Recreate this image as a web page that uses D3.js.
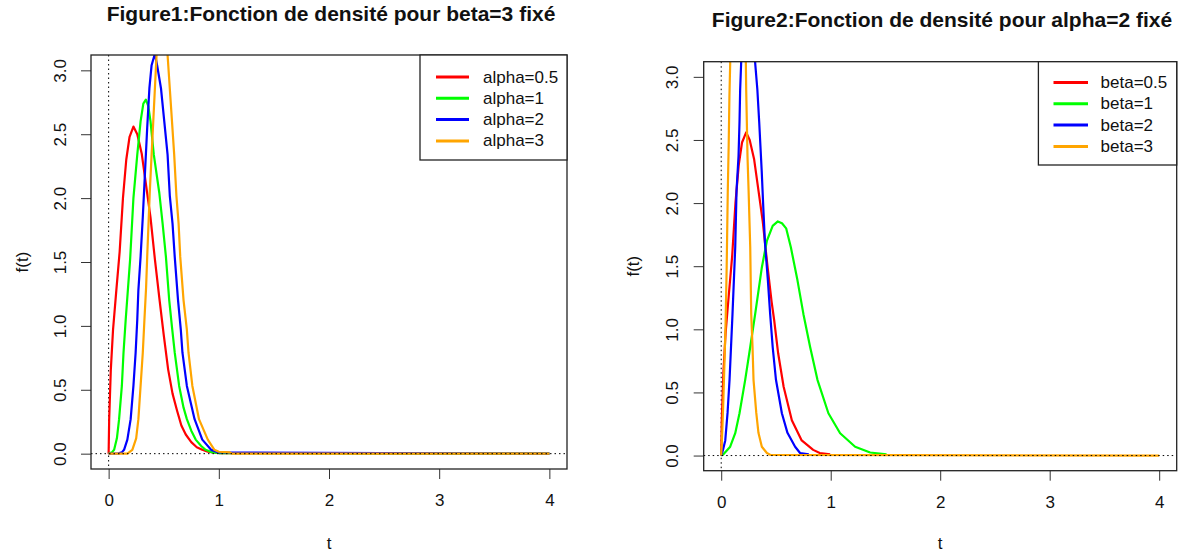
<!doctype html>
<html>
<head>
<meta charset="utf-8">
<script src="https://d3js.org/d3.v7.min.js"></script>
<style>
  body { margin: 0; background: #fff; }
  text { font-family: "Liberation Sans", Arial, sans-serif; fill: #111; }
</style>
</head>
<body>
<svg id="chart" width="1188" height="554"></svg>
<script>
// ---- Figure 1 : beta = 3 fixed, alpha varies ----
var fig1Labels = ["alpha=0.5", "alpha=1", "alpha=2", "alpha=3"];

var f1RedT = [0, 0.005, 0.02, 0.04, 0.07, 0.1, 0.13, 0.16, 0.19, 0.225, 0.26, 0.3, 0.34, 0.38, 0.42, 0.46, 0.5, 0.54, 0.58, 0.62, 0.66, 0.7, 0.75, 0.8, 0.85, 0.9, 0.95, 1.0, 4.0];
var f1RedF = [0, 0.27, 0.66, 0.97, 1.28, 1.58, 2.0, 2.3, 2.48, 2.56, 2.5, 2.35, 2.1, 1.85, 1.52, 1.22, 0.93, 0.66, 0.47, 0.34, 0.22, 0.15, 0.09, 0.05, 0.03, 0.015, 0.01, 0.005, 0];

var f1GreenT = [0, 0.03, 0.05, 0.075, 0.095, 0.12, 0.135, 0.155, 0.195, 0.225, 0.26, 0.29, 0.315, 0.338, 0.36, 0.38, 0.41, 0.46, 0.49, 0.52, 0.55, 0.575, 0.6, 0.64, 0.68, 0.71, 0.75, 0.79, 0.84, 0.88, 0.94, 1.0, 4.0];
var f1GreenF = [0, 0.01, 0.03, 0.12, 0.27, 0.53, 0.79, 1.05, 1.52, 2.0, 2.34, 2.6, 2.74, 2.77, 2.72, 2.6, 2.34, 2.04, 1.8, 1.54, 1.2, 0.99, 0.79, 0.53, 0.36, 0.27, 0.18, 0.11, 0.06, 0.03, 0.01, 0.005, 0];

var f1BlueT = [0, 0.09, 0.12, 0.14, 0.17, 0.2, 0.225, 0.245, 0.26, 0.27, 0.29, 0.31, 0.33, 0.35, 0.37, 0.39, 0.42, 0.44, 0.475, 0.505, 0.535, 0.555, 0.58, 0.6, 0.63, 0.655, 0.67, 0.71, 0.78, 0.85, 0.93, 1.0, 4.0];
var f1BlueF = [0, 0.002, 0.01, 0.03, 0.11, 0.27, 0.53, 0.79, 1.05, 1.28, 1.54, 1.85, 2.2, 2.55, 2.86, 3.04, 3.13, 3.04, 2.86, 2.6, 2.34, 2.02, 1.8, 1.54, 1.2, 0.97, 0.79, 0.53, 0.27, 0.11, 0.03, 0.01, 0];

var f1OrangeT = [0, 0.17, 0.215, 0.25, 0.27, 0.29, 0.31, 0.325, 0.34, 0.35, 0.362, 0.373, 0.39, 0.405, 0.42, 0.435, 0.485, 0.535, 0.555, 0.575, 0.595, 0.615, 0.635, 0.65, 0.68, 0.71, 0.725, 0.76, 0.82, 0.9, 0.96, 1.0, 1.1, 1.12, 4.0];
var f1OrangeF = [0, 0, 0.03, 0.12, 0.27, 0.53, 0.79, 1.05, 1.3, 1.54, 1.8, 2.04, 2.34, 2.6, 2.86, 3.12, 3.5, 3.12, 2.86, 2.6, 2.34, 2.02, 1.8, 1.54, 1.2, 0.97, 0.79, 0.53, 0.27, 0.11, 0.03, 0.015, 0.01, 0, 0];

// ---- Figure 2 : alpha = 2 fixed, beta varies ----
var fig2Labels = ["beta=0.5", "beta=1", "beta=2", "beta=3"];

var f2RedT = [0, 0.005, 0.02, 0.04, 0.07, 0.1, 0.13, 0.16, 0.19, 0.228, 0.26, 0.3, 0.34, 0.38, 0.42, 0.46, 0.484, 0.52, 0.57, 0.645, 0.735, 0.84, 0.9, 0.995];
var f2RedF = [0, 0.27, 0.66, 0.97, 1.28, 1.58, 2.0, 2.3, 2.48, 2.56, 2.5, 2.35, 2.1, 1.85, 1.52, 1.22, 1.07, 0.81, 0.545, 0.28, 0.12, 0.045, 0.02, 0.01];

var f2GreenT = [0, 0.02, 0.082, 0.128, 0.167, 0.219, 0.265, 0.31, 0.371, 0.417, 0.47, 0.517, 0.555, 0.593, 0.636, 0.696, 0.751, 0.812, 0.879, 0.979, 1.086, 1.223, 1.36, 1.51];
var f2GreenF = [0, 0.01, 0.07, 0.177, 0.335, 0.6, 0.86, 1.12, 1.49, 1.7, 1.82, 1.855, 1.84, 1.8, 1.65, 1.39, 1.12, 0.86, 0.6, 0.335, 0.177, 0.07, 0.024, 0.01];

var f2BlueT = [0, 0.016, 0.037, 0.058, 0.076, 0.103, 0.128, 0.14, 0.158, 0.167, 0.173, 0.182, 0.2, 0.24, 0.28, 0.31, 0.33, 0.347, 0.37, 0.385, 0.4, 0.426, 0.447, 0.47, 0.5, 0.554, 0.605, 0.675, 0.72, 0.8];
var f2BlueF = [0, 0.045, 0.12, 0.34, 0.6, 1.12, 1.65, 2.1, 2.37, 2.64, 2.9, 3.11, 3.5, 3.8, 3.55, 3.11, 2.9, 2.64, 2.25, 1.95, 1.68, 1.39, 1.12, 0.86, 0.6, 0.335, 0.18, 0.07, 0.02, 0.01];

var f2OrangeT = [0, 0.01, 0.02, 0.03, 0.04, 0.05, 0.06, 0.068, 0.075, 0.082, 0.11, 0.15, 0.19, 0.225, 0.228, 0.234, 0.24, 0.25, 0.265, 0.274, 0.286, 0.295, 0.32, 0.34, 0.371, 0.417, 0.45, 4.0];
var f2OrangeF = [0, 0.2, 0.45, 0.75, 1.05, 1.5, 2.1, 2.45, 2.85, 3.11, 4.4, 5.3, 4.6, 3.11, 2.9, 2.64, 2.37, 2.1, 1.65, 1.12, 0.86, 0.6, 0.34, 0.18, 0.07, 0.02, 0.005, 0];

var xTicks = [0, 1, 2, 3, 4];
var yTicks = [0, 0.5, 1, 1.5, 2, 2.5, 3];
var colors = ["#FF0000", "#00FF00", "#0000FF", "#FFA500"];

function zip(ts, fs) { return ts.map(function(t, i) { return [t, fs[i]]; }); }

var svg = d3.select("#chart");

function drawPanel(cfg) {
  var x = d3.scaleLinear().domain([-0.16, 4.16]).range([cfg.left, cfg.right]);
  var y = d3.scaleLinear().domain([-0.12, 3.12]).range([cfg.bottom, cfg.top]);
  var g = svg.append("g");

  g.append("clipPath").attr("id", cfg.id)
    .append("rect")
      .attr("x", cfg.left).attr("y", cfg.top)
      .attr("width", cfg.right - cfg.left).attr("height", cfg.bottom - cfg.top);

  // title
  g.append("text")
    .attr("x", cfg.titleX).attr("y", cfg.titleY)
    .attr("text-anchor", "middle")
    .style("font-size", "21px").style("font-weight", "bold")
    .text(cfg.title);

  // x axis
  var xa = g.append("g")
    .attr("transform", "translate(0," + cfg.bottom + ")")
    .call(d3.axisBottom(x).tickValues(xTicks).tickSize(10).tickPadding(15).tickFormat(d3.format("d")));
  xa.select(".domain").remove();
  xa.selectAll("text").style("font-size", "17px").attr("fill", "#111")
    .style("font-family", '"Liberation Sans", Arial, sans-serif');
  xa.selectAll("line").attr("stroke", "#333");

  // y axis
  var ya = g.append("g")
    .attr("transform", "translate(" + cfg.left + ",0)")
    .call(d3.axisLeft(y).tickValues(yTicks).tickSize(10).tickFormat(d3.format(".1f")));
  ya.select(".domain").remove();
  ya.selectAll("line").attr("stroke", "#333");
  ya.selectAll("text")
    .attr("x", null).attr("dy", null)
    .attr("text-anchor", "middle")
    .attr("dominant-baseline", "central")
    .attr("transform", "translate(-31,0) rotate(-90)")
    .style("font-size", "17px").attr("fill", "#444")
    .style("font-family", '"Liberation Sans", Arial, sans-serif');

  // axis titles
  g.append("text")
    .attr("x", (cfg.left + cfg.right) / 2).attr("y", 549)
    .attr("text-anchor", "middle").style("font-size", "17px")
    .text("t");
  g.append("text")
    .attr("transform", "translate(" + cfg.ylabX + "," + ((cfg.top + cfg.bottom) / 2) + ") rotate(-90)")
    .attr("text-anchor", "middle").attr("dominant-baseline", "central")
    .style("font-size", "17px")
    .text("f(t)");

  // dotted reference line at t=0
  g.append("line")
    .attr("x1", x(0)).attr("x2", x(0)).attr("y1", cfg.top).attr("y2", cfg.bottom)
    .attr("stroke", "#000").attr("stroke-width", 1).attr("stroke-dasharray", "1.5,3");

  // curves
  var line = d3.line().x(function(d) { return x(d[0]); }).y(function(d) { return y(d[1]); });
  g.append("g").attr("clip-path", "url(#" + cfg.id + ")")
    .selectAll("path")
    .data(cfg.series)
    .join("path")
      .attr("d", line)
      .attr("fill", "none")
      .attr("stroke", function(d, i) { return colors[i]; })
      .attr("stroke-width", 2.2)
      .attr("stroke-linejoin", "round");

  // dotted line at f=0, on top of the curves
  g.append("line")
    .attr("x1", cfg.left).attr("x2", cfg.right).attr("y1", y(0)).attr("y2", y(0))
    .attr("stroke", "#000").attr("stroke-width", 1).attr("stroke-dasharray", "1.5,3");

  // box
  g.append("rect")
    .attr("x", cfg.left).attr("y", cfg.top)
    .attr("width", cfg.right - cfg.left).attr("height", cfg.bottom - cfg.top)
    .attr("fill", "none").attr("stroke", "#222").attr("stroke-width", 1.3);

  // legend
  var lg = cfg.legend;
  g.append("rect")
    .attr("x", lg.x0).attr("y", cfg.top)
    .attr("width", cfg.right - lg.x0).attr("height", lg.y1 - cfg.top)
    .attr("fill", "#fff").attr("stroke", "#222").attr("stroke-width", 1.3);
  cfg.labels.forEach(function(lab, i) {
    var yy = lg.firstY + i * lg.step;
    g.append("line")
      .attr("x1", lg.lineX1).attr("x2", lg.lineX2).attr("y1", yy).attr("y2", yy)
      .attr("stroke", colors[i]).attr("stroke-width", 3);
    g.append("text")
      .attr("x", lg.textX).attr("y", yy)
      .attr("dominant-baseline", "central")
      .style("font-size", "17px")
      .text(lab);
  });
}

drawPanel({
  id: "clip1", left: 91, right: 567, top: 55, bottom: 469,
  title: "Figure1:Fonction de densité pour beta=3 fixé", titleX: 331, titleY: 21,
  ylabX: 22,
  labels: fig1Labels,
  series: [zip(f1RedT, f1RedF), zip(f1GreenT, f1GreenF), zip(f1BlueT, f1BlueF), zip(f1OrangeT, f1OrangeF)],
  legend: { x0: 420, y1: 160, firstY: 77, step: 21.3, lineX1: 436, lineX2: 469, textX: 483 }
});

drawPanel({
  id: "clip2", left: 703.7, right: 1176.7, top: 61.7, bottom: 470.7,
  title: "Figure2:Fonction de densité pour alpha=2 fixé", titleX: 942, titleY: 27,
  ylabX: 633,
  labels: fig2Labels,
  series: [zip(f2RedT, f2RedF), zip(f2GreenT, f2GreenF), zip(f2BlueT, f2BlueF), zip(f2OrangeT, f2OrangeF)],
  legend: { x0: 1038.4, y1: 165, firstY: 82.5, step: 21.3, lineX1: 1053.5, lineX2: 1088, textX: 1100.6 }
});
</script>
</body>
</html>
